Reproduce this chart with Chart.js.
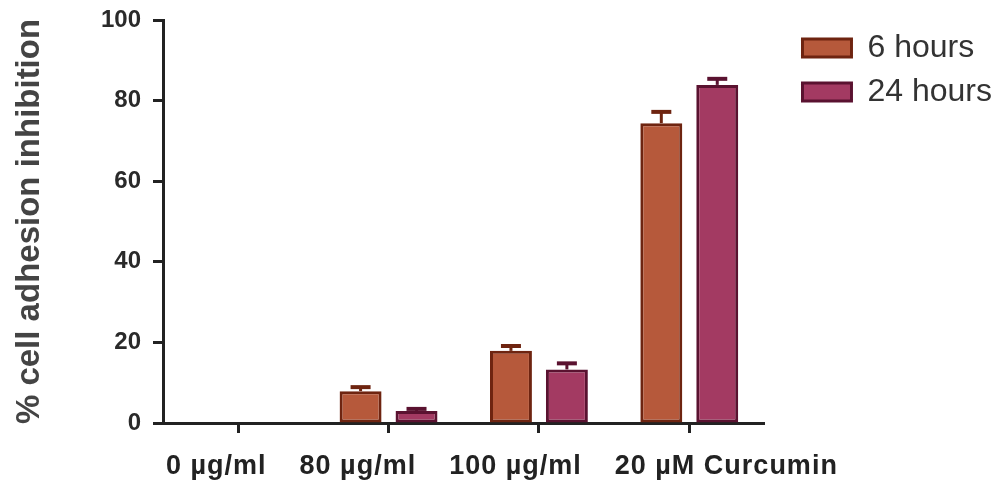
<!DOCTYPE html>
<html>
<head>
<meta charset="utf-8">
<script src="https://cdn.jsdelivr.net/npm/chart.js@4.4.0/dist/chart.umd.min.js"></script>
<style>
  html, body { margin: 0; padding: 0; background: #fff; }
  #wrap { width: 1002px; height: 486px; }
</style>
</head>
<body>
<div id="wrap"><canvas id="adhesionChart"></canvas></div>
<script>
var categories = ['0 \u00b5g/ml', '80 \u00b5g/ml', '100 \u00b5g/ml', '20 \u00b5M Curcumin'];
var seriesNames = ['6 hours', '24 hours'];
var sixHours = [0, 7.9, 17.9, 74.4];
var sixHoursErr = [0, 1.0, 1.2, 2.8];
var twentyFourHours = [0, 3.0, 13.3, 83.9];
var twentyFourHoursErr = [0, 0.5, 1.5, 1.5];
var yTicks = [0, 20, 40, 60, 80, 100];

var labelFont = 'bold 27px "Liberation Sans", Arial, sans-serif';

var chartData = {
    labels: categories,
    datasets: [{
        label: seriesNames[0],
        data: sixHours,
        errors: sixHoursErr,
        backgroundColor: 'rgb(182, 89, 59)',
        borderColor: 'rgb(110, 36, 16)',
        borderWidth: 3,
        borderSkipped: false
    }, {
        label: seriesNames[1],
        data: twentyFourHours,
        errors: twentyFourHoursErr,
        backgroundColor: 'rgb(163, 58, 98)',
        borderColor: 'rgb(90, 18, 48)',
        borderWidth: 3,
        borderSkipped: false
    }]
};

// upward-only error bars with a short cap
var errorBars = {
    id: 'errorBars',
    afterDatasetsDraw: function (chart) {
        var ctx = chart.ctx;
        var y = chart.scales.y;
        chart.data.datasets.forEach(function (ds, i) {
            var meta = chart.getDatasetMeta(i);
            meta.data.forEach(function (bar, j) {
                var err = ds.errors[j];
                if (!err || !ds.data[j]) return;
                var top = y.getPixelForValue(ds.data[j] + err);
                var base = y.getPixelForValue(ds.data[j]);
                ctx.save();
                ctx.strokeStyle = ds.borderColor;
                ctx.lineWidth = 3;
                ctx.beginPath();
                ctx.moveTo(bar.x, base);
                ctx.lineTo(bar.x, top);
                ctx.stroke();
                ctx.lineWidth = 4;
                ctx.beginPath();
                ctx.moveTo(bar.x - 10, top);
                ctx.lineTo(bar.x + 10, top);
                ctx.stroke();
                ctx.restore();
            });
        });
    }
};

// category names written as one row under the axis, like the original figure
var categoryRow = {
    id: 'categoryRow',
    afterDraw: function (chart) {
        var ctx = chart.ctx;
        var x = chart.scales.x;
        ctx.save();
        ctx.font = labelFont;
        ctx.letterSpacing = '1px';
        ctx.fillStyle = '#222';
        ctx.textBaseline = 'middle';
        ctx.textAlign = 'left';
        var cursor = x.left + 3;
        var yPos = x.top + 44;
        x.getLabels().forEach(function (lab) {
            ctx.fillText(lab, cursor, yPos);
            cursor += ctx.measureText(lab).width + 33;
        });
        ctx.restore();
    }
};

var chartOptions = {
    responsive: true,
    maintainAspectRatio: false,
    animation: false,
    layout: { padding: { top: 20, right: 0, bottom: 0, left: 0 } },
    datasets: {
        bar: { categoryPercentage: 0.744, barPercentage: 0.75 }
    },
    plugins: {
        tooltip: { enabled: false },
        legend: {
            position: 'right',
            align: 'start',
            maxWidth: 240,
            labels: {
                boxWidth: 49,
                boxHeight: 18,
                padding: 12,
                color: '#333',
                font: { family: 'Liberation Sans, Arial, sans-serif', size: 32 }
            }
        }
    },
    scales: {
        x: {
            afterFit: function (scale) { scale.height = 63; },
            grid: {
                offset: false,
                drawOnChartArea: false,
                drawTicks: true,
                tickLength: 10,
                tickWidth: 3,
                tickColor: '#222'
            },
            border: { display: true, color: '#222', width: 3 },
            ticks: { display: false }
        },
        y: {
            min: 0,
            max: 100,
            afterFit: function (scale) { scale.width = 163; },
            afterBuildTicks: function (scale) {
                scale.ticks = yTicks.map(function (v) { return { value: v }; });
            },
            grid: {
                drawOnChartArea: false,
                drawTicks: true,
                tickLength: 10,
                tickWidth: 3,
                tickColor: '#222'
            },
            border: { display: true, color: '#222', width: 3 },
            ticks: {
                padding: 12,
                color: '#2a2a2a',
                font: { family: 'Liberation Sans, Arial, sans-serif', size: 24, weight: 'bold', lineHeight: 0.6 }
            },
            title: {
                display: true,
                text: '% cell adhesion inhibition',
                color: '#444',
                padding: { top: 10, bottom: 0 },
                font: { family: 'Liberation Sans, Arial, sans-serif', size: 33, weight: 'bold' }
            }
        },
        // empty gap between the plot and the legend
        gap: {
            position: 'right',
            display: true,
            afterFit: function (scale) { scale.width = 26; },
            grid: { display: false },
            border: { display: false },
            ticks: { display: false }
        }
    }
};

var contextoAdhesion = document.getElementById('adhesionChart').getContext('2d');

var adhesionChart = new Chart(contextoAdhesion, {
    type: 'bar',
    data: chartData,
    options: chartOptions,
    plugins: [errorBars, categoryRow]
});
</script>
</body>
</html>
